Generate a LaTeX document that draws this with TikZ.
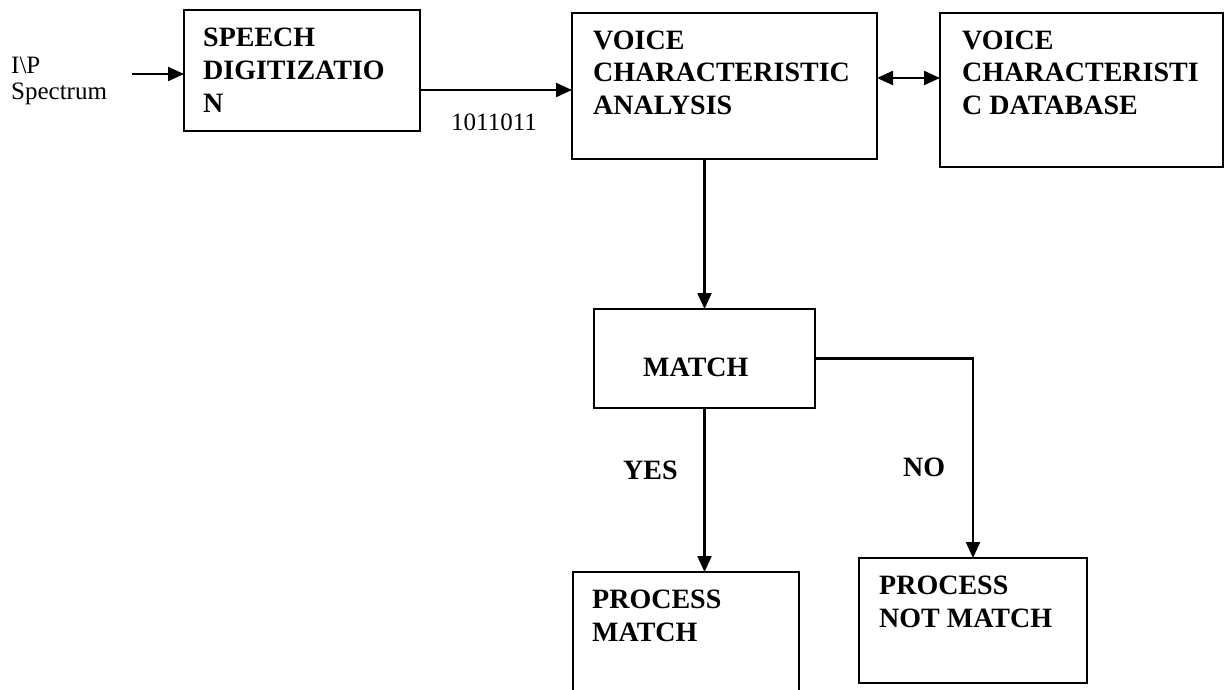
\documentclass[tikz,border=0pt]{standalone}
\usepackage{fontspec}
\setmainfont{Liberation Serif}
\usetikzlibrary{arrows.meta}
\begin{document}
\begin{tikzpicture}[x=1pt,y=-1pt,
  blk/.style={draw,line width=2.5pt,anchor=north west,inner sep=0pt,outer sep=0pt},
  btxt/.style={anchor=base west,inner sep=0pt,align=left,font=\fontsize{28}{33}\selectfont\bfseries},
  rtxt/.style={anchor=base west,inner sep=0pt,align=left,font=\fontsize{25}{26}\selectfont},
  tip/.tip={Triangle[length=16pt,width=14pt]},
  arr/.style={line width=2.2pt,-tip},
  darr/.style={line width=2.2pt,tip-tip}]
\clip (0,0) rectangle (1226,690);
\fill[white] (0,0) rectangle (1226,690);
% boxes
\node[blk,minimum width=236pt,minimum height=121pt] (sp) at (184,10) {};
\node[blk,minimum width=305pt,minimum height=146pt] (va) at (572,13) {};
\node[blk,minimum width=283pt,minimum height=154pt] (db) at (940,13) {};
\node[blk,minimum width=221pt,minimum height=99pt] (mt) at (594,309) {};
\node[blk,minimum width=226pt,minimum height=150pt] (pm) at (573,572) {};
\node[blk,minimum width=228pt,minimum height=125pt] (pn) at (859,558) {};
% texts (anchor at the baseline of the last line)
\node[btxt] (tsp) at (203,113) {SPEECH\\DIGITIZATIO\\N};
\node[btxt] (tva) at (593,115) {VOICE\\CHARACTERISTIC\\ANALYSIS};
\node[btxt] (tdb) at (962,115) {VOICE\\CHARACTERISTI\\C DATABASE};
\node[btxt] (tmt) at (643,376) {MATCH};
\node[btxt] (tpm) at (592,641) {PROCESS\\MATCH};
\node[btxt] (tpn) at (879,627) {PROCESS\\NOT MATCH};
\node[btxt] (yes) at (623,479) {YES};
\node[btxt] (no) at (903,476) {NO};
\node[rtxt] (ip) at (11,100) {I\textbackslash P\\Spectrum};
\node[rtxt] (bits) at (451,131) {1011011};
% connectors
\coordinate (in) at (132,74);
\draw[arr] (in) -- (in -| sp.west);
\draw[arr] (sp.east |- 0,90) -- (va.west |- 0,90);
\draw[darr] (va.east |- 0,78) -- (db.west |- 0,78);
\draw[arr] (va.south -| mt.north) -- (mt.north);
\draw[arr] (mt.south) -- (mt.south |- pm.north);
\draw[arr] (mt.east) -| (pn.north);
\end{tikzpicture}
\end{document}
